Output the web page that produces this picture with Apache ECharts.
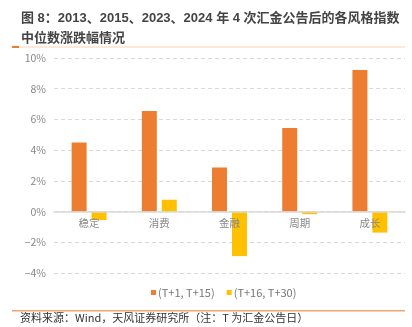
<!DOCTYPE html>
<html><head><meta charset="utf-8">
<script src="https://cdn.jsdelivr.net/npm/echarts@6/dist/echarts.min.js"></script>
<style>html,body{margin:0;padding:0;background:#fff}#c{width:412px;height:327px}</style>
</head><body><div id="c"></div>
<script>
var categories = ['稳定', '消费', '金融', '周期', '成长'];
var seriesNames = ['(T+1, T+15)', '(T+16, T+30)'];
var s1 = [4.5, 6.55, 2.87, 5.45, 9.22];
var s2 = [-0.55, 0.77, -2.9, -0.17, -1.37];
var yTicks = { min: -4, max: 10, interval: 2 };
var titleText = '图 8：2013、2015、2023、2024 年 4 次汇金公告后的各风格指数\n中位数涨跌幅情况';
var sourceText = '资料来源：Wind，天风证券研究所（注：T 为汇金公告日）';

var gridTop = 58, gridBottom = 54, H = 327;
var gridH = H - gridTop - gridBottom;
var zeroOffset = -(0 - yTicks.min) / (yTicks.max - yTicks.min) * gridH;

var chart = echarts.init(document.getElementById('c'), null, {renderer: 'canvas'});
var font = '"Noto Sans CJK SC", "Noto Sans", sans-serif';
chart.setOption({
  animation: false,
  textStyle: { fontFamily: font },
  title: {
    text: titleText, left: 16, top: 3,
    textStyle: { fontSize: 13, fontWeight: 'bold', color: '#444', lineHeight: 20, fontFamily: '"Liberation Sans", "Noto Sans CJK SC", sans-serif' }
  },
  legend: {
    data: seriesNames, bottom: 24, left: 146, itemWidth: 5, itemHeight: 5, itemGap: 12,
    icon: 'rect',
    textStyle: { fontSize: 11, color: '#777', fontFamily: font, padding: [0, 0, 0, -3] }
  },
  grid: { left: 54, right: 7, top: gridTop, bottom: gridBottom },
  xAxis: {
    type: 'category', data: categories, offset: zeroOffset,
    axisLine: { onZero: false, lineStyle: { color: '#d9d9d9', width: 1.5 } },
    axisTick: { show: false },
    axisLabel: { color: '#888', fontSize: 10.5, margin: 6, fontFamily: font },
    z: 10
  },
  yAxis: {
    type: 'value', min: yTicks.min, max: yTicks.max, interval: yTicks.interval,
    axisLabel: { formatter: function(v){ return (v < 0 ? '\u2212' + (-v) : v) + '%'; }, color: '#888', fontSize: 10.5, margin: 8, fontFamily: font },
    axisLine: { show: false }, axisTick: { show: false },
    splitLine: { lineStyle: { color: '#d9d9d9', type: [4, 3] } }
  },
  series: [
    { name: seriesNames[0], type: 'bar', data: s1, barWidth: 15, barGap: '33%', itemStyle: { color: '#ED7D31' }, z: 2 },
    { name: seriesNames[1], type: 'bar', data: s2, barWidth: 15, itemStyle: { color: '#FFC000' }, z: 2 }
  ],
  graphic: [
    { type: 'rect', shape: { x: 19, y: 46.5, width: 386, height: 1 }, style: { fill: '#F9D3B4' } },
    { type: 'rect', shape: { x: 12, y: 46, width: 7, height: 2 }, style: { fill: '#ED7D31' } },
    { type: 'rect', shape: { x: 12, y: 310, width: 393, height: 1.5 }, style: { fill: '#F2A46C' } },
    { type: 'text', left: 20, top: 312, style: { text: sourceText, fontSize: 11, fill: '#333', fontFamily: font } }
  ]
});
</script></body></html>
